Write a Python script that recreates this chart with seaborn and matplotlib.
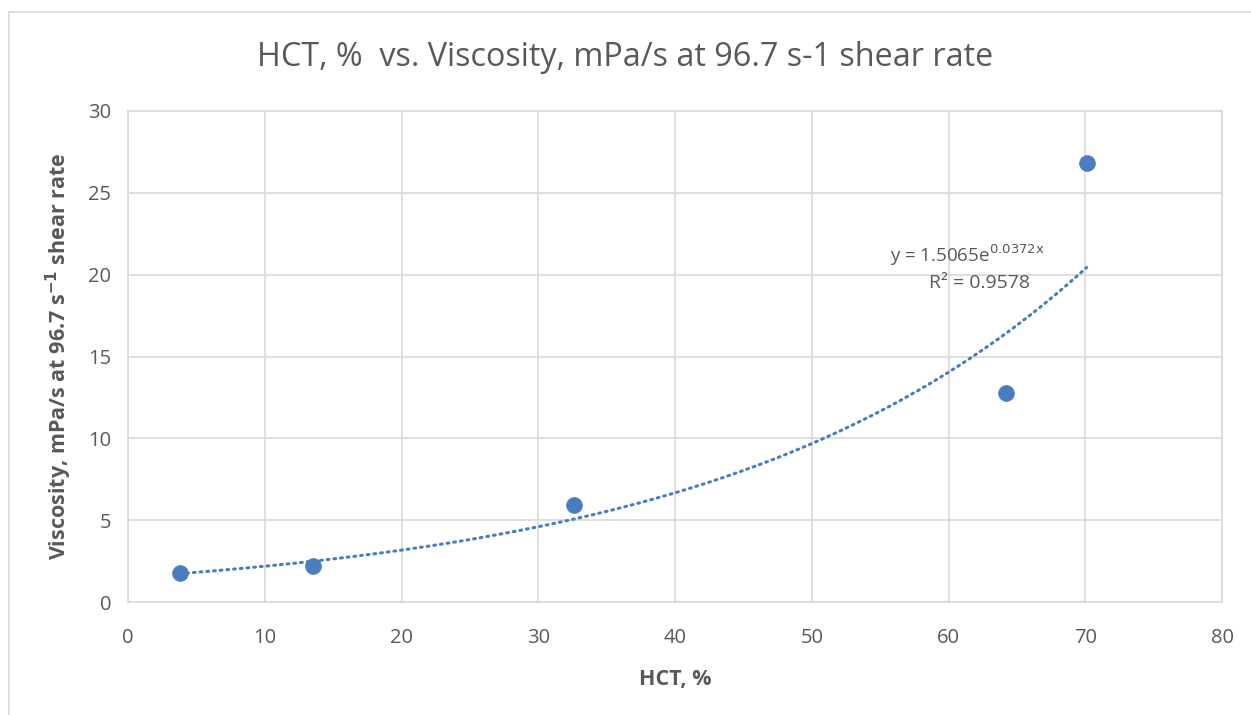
import numpy as np
import pandas as pd
import matplotlib
matplotlib.use("Agg")
import matplotlib.pyplot as plt
import seaborn as sns
from matplotlib.patches import Rectangle

# data
hct = [3.8, 13.5, 32.6, 64.2, 70.1]
viscosity = [1.8, 2.2, 5.9, 12.75, 26.8]

# exponential trendline shown on the chart: y = a * e^(b x)
trend_a = 1.5065
trend_b = 0.0372
r_squared = 0.9578

x_ticks = [0, 10, 20, 30, 40, 50, 60, 70, 80]
y_ticks = [0, 5, 10, 15, 20, 25, 30]

text_color = "#595959"
grid_color = "#d9d9d9"
point_color = "#4a7dbf"

sns.set_style("white")
plt.rcParams["font.family"] = ["Open Sans", "DejaVu Sans"]

df = pd.DataFrame({"HCT": hct, "Viscosity": viscosity})
trend_x = np.linspace(min(hct), max(hct), 200)
trend = pd.DataFrame({"HCT": trend_x, "Viscosity": trend_a * np.exp(trend_b * trend_x)})

fig = plt.figure(figsize=(12.51, 7.15), dpi=100)
ax = fig.add_axes([128 / 1251, 1 - 602 / 715, (1222 - 128) / 1251, (602 - 111) / 715])

# chart border
fig.add_artist(Rectangle((9 / 1251, -0.01), 1.02, 1 - 12 / 715 + 0.01,
                         transform=fig.transFigure, fill=False,
                         edgecolor=grid_color, linewidth=1.2))

sns.lineplot(data=trend, x="HCT", y="Viscosity", ax=ax, color=point_color,
             linestyle=(0, (0.6, 1.6)), linewidth=2.2, dash_capstyle="round", zorder=2)
sns.scatterplot(data=df, x="HCT", y="Viscosity", ax=ax, color=point_color,
                s=130, edgecolor=point_color, linewidth=0.5, zorder=3)

ax.set_xlim(0, 80)
ax.set_ylim(0, 30)
ax.set_xticks(x_ticks)
ax.set_yticks(y_ticks)
ax.grid(True, color=grid_color, linewidth=1.2)
ax.set_axisbelow(True)
for sp in ax.spines.values():
    sp.set_color(grid_color)
    sp.set_linewidth(1.2)
ax.tick_params(axis="both", length=0, labelsize=14.5, labelcolor=text_color)
ax.tick_params(axis="x", pad=19)
ax.tick_params(axis="y", pad=12)

ax.set_xlabel("HCT, %", fontsize=15.5, fontweight="bold", color=text_color, labelpad=15)
ax.set_ylabel("Viscosity, mPa/s at 96.7 s$^{\\mathbf{-1}}$ shear rate", fontsize=15.5,
              fontweight="bold", color=text_color, labelpad=10)

fig.text(0.5, 1 - 58 / 715, "HCT, %  vs. Viscosity, mPa/s at 96.7 s-1 shear rate",
         ha="center", va="center", fontsize=23.3, color=text_color)

ax.text(61.4, 21.2, "y = %.4fe$^{\\mathrm{%.4fx}}$" % (trend_a, trend_b), ha="center", va="center",
        fontsize=13.5, color=text_color)
ax.text(62.3, 19.5, "R² = %.4f" % r_squared, ha="center", va="center",
        fontsize=14, color=text_color)

fig.savefig("out.png", dpi=100)
